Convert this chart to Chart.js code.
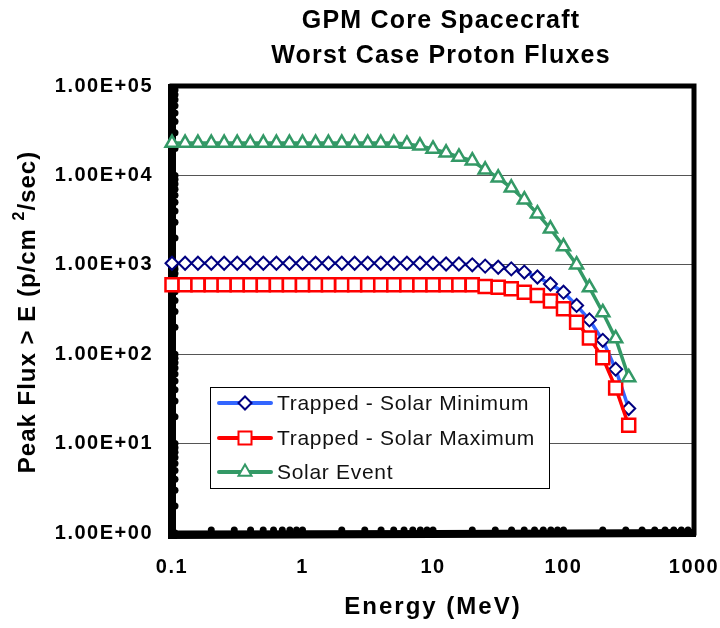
<!DOCTYPE html>
<html>
<head>
<meta charset="utf-8">
<script src="https://cdn.jsdelivr.net/npm/chart.js@4.4.0/dist/chart.umd.min.js"></script>
<style>
    html, body { margin: 0; padding: 0; background: #fff; }
    #wrap { width: 720px; height: 628px; }
</style>
</head>
<body>
<div id="wrap"><canvas id="flujoChart" width="720" height="628"></canvas></div>
<script>
// Datos (energía en MeV, flujo en p/cm2/sec)
const energias = [0.1, 0.126, 0.158, 0.2, 0.251, 0.316, 0.398, 0.501, 0.631, 0.794,
    1, 1.26, 1.58, 2, 2.51, 3.16, 3.98, 5.01, 6.31, 7.94,
    10, 12.6, 15.8, 20, 25.1, 31.6, 39.8, 50.1, 63.1, 79.4,
    100, 126, 158, 200, 251, 316];
const trappedMin = [1040, 1040, 1040, 1040, 1040, 1040, 1040, 1040, 1040, 1040,
    1040, 1040, 1040, 1040, 1040, 1040, 1040, 1040, 1040, 1040,
    1040, 1020, 1020, 1000, 967, 938, 900, 829, 730, 610,
    494, 351, 242, 143, 68, 24.7];
const trappedMax = [597, 597, 597, 597, 597, 597, 597, 597, 597, 597,
    597, 597, 597, 597, 597, 597, 597, 597, 597, 597,
    597, 597, 597, 597, 571, 561, 538, 494, 453, 394,
    322, 228, 152, 91, 42, 16];
const solarEvent = [23000, 23000, 23000, 23000, 23000, 23000, 23000, 23000, 23000, 23000,
    23000, 23000, 23000, 23000, 23000, 23000, 23000, 23000, 22500, 21400,
    19800, 17900, 16100, 14600, 11550, 9400, 7270, 5350, 3730, 2530,
    1600, 1004, 557, 293, 150, 55];
const xTicks = [0.1, 1, 10, 100, 1000];
const yTicks = [1, 10, 100, 1000, 10000, 100000];
const titulo = ['GPM Core Spacecraft', 'Worst Case Proton Fluxes'];
const etiquetas = ['Trapped - Solar Minimum', 'Trapped - Solar Maximum', 'Solar Event'];

const FUENTE = "'Liberation Sans', Arial, Helvetica, sans-serif";

function puntos(serie) {
    return energias.map((e, i) => ({ x: e, y: serie[i] }));
}

// 1.00E+05
function formatoE(v) {
    const exp = Math.round(Math.log10(v));
    return '1.00E' + (exp < 0 ? '-' : '+') + String(Math.abs(exp)).padStart(2, '0');
}

// Dibuja un marcador simple (para la leyenda)
function marcador(ctx, estilo, x, y, r) {
    ctx.beginPath();
    if (estilo === 'rectRot') {
        ctx.moveTo(x - r, y); ctx.lineTo(x, y - r); ctx.lineTo(x + r, y); ctx.lineTo(x, y + r);
    } else if (estilo === 'rect') {
        const s = r * Math.SQRT1_2;
        ctx.rect(x - s, y - s, 2 * s, 2 * s);
    } else {
        ctx.moveTo(x, y - r);
        ctx.lineTo(x + Math.sin(2 * Math.PI / 3) * r, y - Math.cos(2 * Math.PI / 3) * r);
        ctx.lineTo(x + Math.sin(4 * Math.PI / 3) * r, y - Math.cos(4 * Math.PI / 3) * r);
    }
    ctx.closePath();
    ctx.fill();
    ctx.stroke();
}

// Marco grueso y marcas menores de los ejes
const marcoPlugin = {
    id: 'marco',
    beforeDraw(chart) {
        chart.ctx.letterSpacing = '1.5px';
    },
    beforeDatasetsDraw(chart) {
        const ctx = chart.ctx;
        const a = chart.chartArea;
        const sx = chart.scales.x, sy = chart.scales.y;
        ctx.save();
        ctx.strokeStyle = '#000';
        ctx.fillStyle = '#000';
        ctx.lineWidth = 5;
        ctx.strokeRect(a.left, a.top, a.right - a.left, a.bottom - a.top);
        ctx.lineWidth = 8;
        ctx.beginPath();
        ctx.moveTo(a.left, a.top - 2);
        ctx.lineTo(a.left, a.bottom + 2);
        ctx.lineTo(a.right + 2, a.bottom);
        ctx.stroke();
        // marcas menores en eje Y
        for (let d = 1; d < 100000; d *= 10) {
            for (let k = 1; k < 10; k++) {
                const y = sy.getPixelForValue(d * k);
                ctx.beginPath();
                ctx.arc(a.left + 3, y, 3.5, 0, 2 * Math.PI);
                ctx.fill();
            }
        }
        // marcas menores en eje X
        for (let d = 0.1; d < 999; d *= 10) {
            for (let k = 1; k < 10; k++) {
                const x = sx.getPixelForValue(d * k);
                ctx.beginPath();
                ctx.arc(x, a.bottom - 3, 3.5, 0, 2 * Math.PI);
                ctx.fill();
            }
        }
        ctx.restore();
    },
    afterDraw(chart) {
        const ctx = chart.ctx;
        const a = chart.chartArea;
        ctx.save();
        ctx.fillStyle = '#000';
        ctx.textAlign = 'center';
        ctx.textBaseline = 'middle';

        // Título
        ctx.font = 'bold 25px ' + FUENTE;
        ctx.letterSpacing = '1.2px';
        ctx.fillText(titulo[0], 441, 21);
        ctx.fillText(titulo[1], 441, 56);

        // Título eje X
        ctx.font = 'bold 24px ' + FUENTE;
        ctx.letterSpacing = '2px';
        ctx.fillText('Energy (MeV)', (a.left + a.right) / 2, 607);

        // Título eje Y con superíndice
        ctx.save();
        ctx.translate(28, 312);
        ctx.rotate(-Math.PI / 2);
        ctx.textAlign = 'left';
        ctx.letterSpacing = '1px';
        const p1 = 'Peak Flux > E (p/cm ', p2 = '2', p3 = '/sec)';
        ctx.font = 'bold 24px ' + FUENTE;
        const w1 = ctx.measureText(p1).width, w3 = ctx.measureText(p3).width;
        ctx.font = 'bold 16px ' + FUENTE;
        const w2 = ctx.measureText(p2).width;
        let x0 = -(w1 + w2 + w3) / 2;
        ctx.font = 'bold 24px ' + FUENTE;
        ctx.fillText(p1, x0, 0);
        ctx.font = 'bold 16px ' + FUENTE;
        ctx.fillText(p2, x0 + w1, -8);
        ctx.font = 'bold 24px ' + FUENTE;
        ctx.fillText(p3, x0 + w1 + w2, 0);
        ctx.restore();

        // Leyenda
        const bx = 210, by = 387, bw = 339, bh = 101;
        ctx.fillStyle = '#fff';
        ctx.fillRect(bx, by, bw, bh);
        ctx.strokeStyle = '#000';
        ctx.lineWidth = 1;
        ctx.strokeRect(bx + 0.5, by + 0.5, bw, bh);
        const filas = [403, 438, 472];
        chart.data.datasets.forEach((ds, i) => {
            const y = filas[i];
            ctx.strokeStyle = ds.borderColor;
            ctx.lineWidth = 4;
            ctx.lineCap = 'round';
            ctx.beginPath();
            ctx.moveTo(219, y);
            ctx.lineTo(271, y);
            ctx.stroke();
            ctx.fillStyle = '#fff';
            ctx.strokeStyle = ds.pointBorderColor;
            ctx.lineWidth = 2;
            marcador(ctx, ds.pointStyle, 245, y, ds.pointRadius);
            ctx.fillStyle = '#111';
            ctx.font = '21px ' + FUENTE;
            ctx.letterSpacing = '0.7px';
            ctx.textAlign = 'left';
            ctx.fillText(ds.label, 277, y + 1);
        });
        ctx.restore();
    }
};

const ctx = document.getElementById('flujoChart').getContext('2d');
const flujoChart = new Chart(ctx, {
    type: 'line',
    data: {
        datasets: [{
            label: etiquetas[0],
            data: puntos(trappedMin),
            borderColor: '#3366FF',
            borderWidth: 3.5,
            pointStyle: 'rectRot',
            pointRadius: 6.5,
            pointBorderColor: '#000080',
            pointBackgroundColor: '#fff',
            pointBorderWidth: 2,
            clip: false,
            order: 3
        }, {
            label: etiquetas[1],
            data: puntos(trappedMax),
            borderColor: '#FF0000',
            borderWidth: 3.5,
            pointStyle: 'rect',
            pointRadius: 9.2,
            pointBorderColor: '#FF0000',
            pointBackgroundColor: '#fff',
            pointBorderWidth: 2.5,
            clip: false,
            order: 2
        }, {
            label: etiquetas[2],
            data: puntos(solarEvent),
            borderColor: '#339966',
            borderWidth: 3.5,
            pointStyle: 'triangle',
            pointRadius: 7.5,
            pointBorderColor: '#339966',
            pointBackgroundColor: '#fff',
            pointBorderWidth: 2.5,
            clip: false,
            order: 1
        }]
    },
    options: {
        responsive: false,
        animation: false,
        devicePixelRatio: 1,
        events: [],
        layout: { padding: { top: 86, right: 26, bottom: 0, left: 0 } },
        plugins: {
            legend: { display: false },
            tooltip: { enabled: false },
            title: { display: false }
        },
        scales: {
            x: {
                type: 'logarithmic',
                min: 0.1,
                max: 1000,
                afterBuildTicks: s => { s.ticks = xTicks.map(v => ({ value: v })); },
                afterFit: s => { s.height = 95; s.paddingLeft = 0; s.paddingRight = 0; },
                grid: { display: false, drawTicks: false },
                border: { display: false },
                ticks: {
                    color: '#000',
                    font: { family: FUENTE, size: 20, weight: 'bold' },
                    padding: 22,
                    maxRotation: 0,
                    autoSkip: false,
                    callback: v => String(v)
                }
            },
            y: {
                type: 'logarithmic',
                min: 1,
                max: 100000,
                afterBuildTicks: s => { s.ticks = yTicks.map(v => ({ value: v })); },
                afterFit: s => { s.width = 172; s.paddingTop = 0; s.paddingBottom = 0; },
                grid: { color: '#555', lineWidth: 1, drawTicks: false },
                border: { display: false },
                ticks: {
                    color: '#000',
                    font: { family: FUENTE, size: 20, weight: 'bold' },
                    padding: 19,
                    autoSkip: false,
                    callback: v => formatoE(v)
                }
            }
        }
    },
    plugins: [marcoPlugin]
});
</script>
</body>
</html>
